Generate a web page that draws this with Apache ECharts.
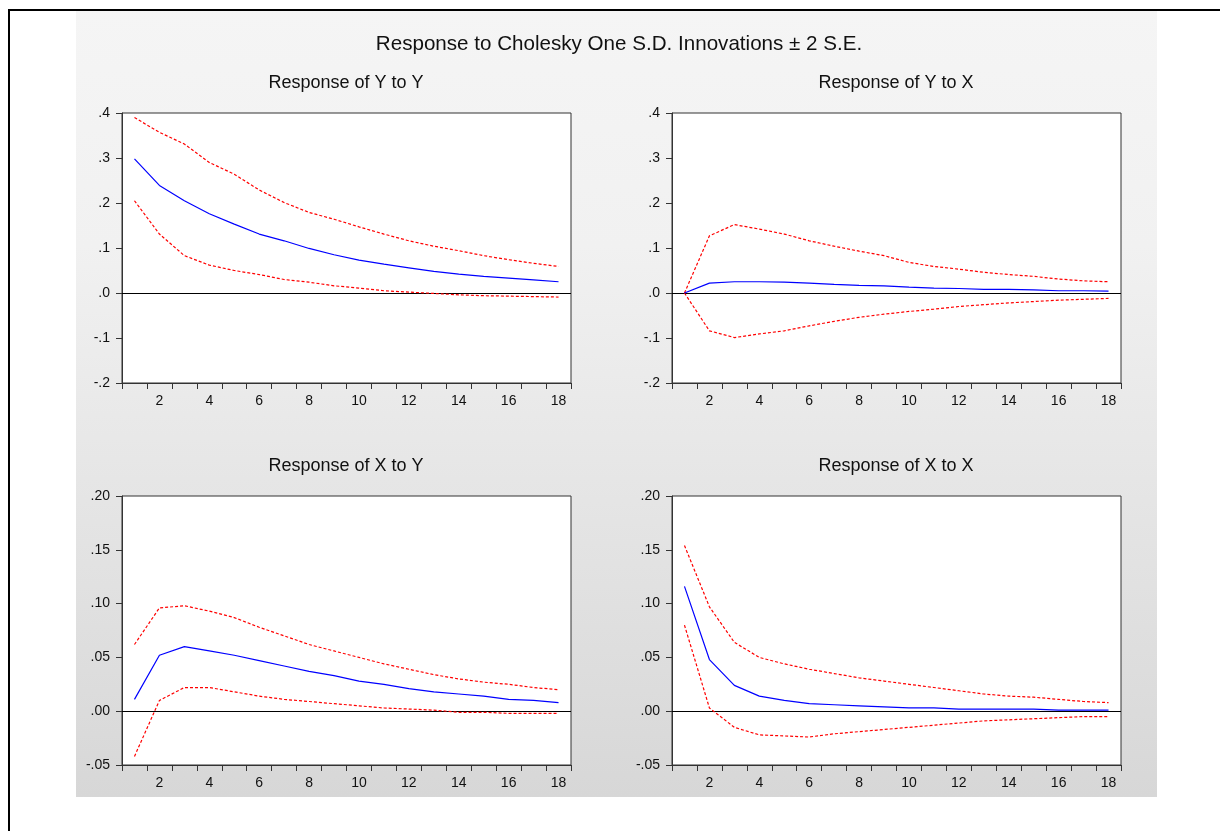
<!DOCTYPE html>
<html>
<head>
<meta charset="utf-8">
<script src="https://cdn.jsdelivr.net/npm/echarts@6/dist/echarts.min.js"></script>
<style>
  html, body { margin: 0; padding: 0; background: #fff; }
  #main { width: 1220px; height: 831px; }
</style>
</head>
<body>
<div id="main"></div>
<script>
// periods 1..18
const periods = ['1','2','3','4','5','6','7','8','9','10','11','12','13','14','15','16','17','18'];

const chartTitle = 'Response to Cholesky One S.D. Innovations \u00b1 2 S.E.';
const panelTitles = ['Response of Y to Y', 'Response of Y to X', 'Response of X to Y', 'Response of X to X'];

// Response of Y to Y
const yyResp  = [0.298, 0.239, 0.205, 0.176, 0.153, 0.131, 0.116, 0.099, 0.085, 0.073, 0.064, 0.056, 0.048, 0.042, 0.037, 0.033, 0.029, 0.025];
const yyUpper = [0.390, 0.357, 0.331, 0.290, 0.264, 0.229, 0.201, 0.179, 0.164, 0.147, 0.131, 0.116, 0.104, 0.094, 0.083, 0.074, 0.066, 0.059];
const yyLower = [0.205, 0.131, 0.083, 0.062, 0.050, 0.041, 0.030, 0.024, 0.016, 0.011, 0.005, 0.002, -0.001, -0.004, -0.006, -0.007, -0.008, -0.009];

// Response of Y to X
const yxResp  = [0.000, 0.022, 0.025, 0.025, 0.024, 0.022, 0.019, 0.017, 0.016, 0.013, 0.011, 0.010, 0.008, 0.008, 0.007, 0.005, 0.005, 0.004];
const yxUpper = [0.000, 0.127, 0.152, 0.142, 0.131, 0.116, 0.104, 0.093, 0.083, 0.068, 0.059, 0.053, 0.046, 0.041, 0.037, 0.031, 0.027, 0.025];
const yxLower = [0.000, -0.084, -0.099, -0.091, -0.084, -0.073, -0.063, -0.054, -0.047, -0.041, -0.036, -0.030, -0.026, -0.022, -0.019, -0.016, -0.014, -0.012];

// Response of X to Y
const xyResp  = [0.011, 0.052, 0.060, 0.056, 0.052, 0.047, 0.042, 0.037, 0.033, 0.028, 0.025, 0.021, 0.018, 0.016, 0.014, 0.011, 0.010, 0.008];
const xyUpper = [0.062, 0.096, 0.098, 0.093, 0.087, 0.078, 0.070, 0.062, 0.056, 0.050, 0.044, 0.039, 0.034, 0.030, 0.027, 0.025, 0.022, 0.020];
const xyLower = [-0.042, 0.010, 0.022, 0.022, 0.018, 0.014, 0.011, 0.009, 0.007, 0.005, 0.003, 0.002, 0.001, -0.001, -0.001, -0.002, -0.002, -0.002];

// Response of X to X
const xxResp  = [0.116, 0.048, 0.024, 0.014, 0.010, 0.007, 0.006, 0.005, 0.004, 0.003, 0.003, 0.002, 0.002, 0.002, 0.002, 0.001, 0.001, 0.001];
const xxUpper = [0.154, 0.097, 0.064, 0.050, 0.044, 0.039, 0.035, 0.031, 0.028, 0.025, 0.022, 0.019, 0.016, 0.014, 0.013, 0.011, 0.009, 0.008];
const xxLower = [0.080, 0.003, -0.015, -0.022, -0.023, -0.024, -0.021, -0.019, -0.017, -0.015, -0.013, -0.011, -0.009, -0.008, -0.007, -0.006, -0.005, -0.005];

// y scales: top row and bottom row
const topScale = { min: -0.2, max: 0.4, interval: 0.1, digits: 1 };
const botScale = { min: -0.05, max: 0.2, interval: 0.05, digits: 2 };

const panels = [
    { resp: yyResp, upper: yyUpper, lower: yyLower, scale: topScale },
    { resp: yxResp, upper: yxUpper, lower: yxLower, scale: topScale },
    { resp: xyResp, upper: xyUpper, lower: xyLower, scale: botScale },
    { resp: xxResp, upper: xxUpper, lower: xxLower, scale: botScale }
];

const gridBoxes = [
    { left: 122, top: 113, width: 449, height: 270 },
    { left: 672, top: 113, width: 449, height: 270 },
    { left: 122, top: 496, width: 449, height: 269 },
    { left: 672, top: 496, width: 449, height: 269 }
];

const font = '"Liberation Sans", Arial, sans-serif';
const txt = '#111';

// eviews style labels: .4  -.1  .00
function tickFmt(digits) {
    return function (v) {
        if (Math.abs(v) < 1e-9) v = 0;
        return v.toFixed(digits).replace('0.', '.');
    };
}

const chart = echarts.init(document.getElementById('main'));

const grids = [], xAxes = [], yAxes = [], series = [];
panels.forEach(function (p, i) {
    grids.push(Object.assign({
        show: true,
        backgroundColor: '#fff',
        borderColor: '#333',
        borderWidth: 1,
        containLabel: false
    }, gridBoxes[i]));

    xAxes.push({
        type: 'category',
        gridIndex: i,
        data: periods,
        boundaryGap: true,
        axisLine: { onZero: false, lineStyle: { color: '#333', width: 1 } },
        axisTick: { show: true, interval: 0, length: 6, alignWithLabel: false, lineStyle: { color: '#333' } },
        axisLabel: {
            interval: function (idx) { return idx % 2 === 1; },
            margin: 11,
            color: txt,
            fontSize: 14,
            fontFamily: font
        },
        splitLine: { show: false }
    });

    yAxes.push({
        type: 'value',
        gridIndex: i,
        min: p.scale.min,
        max: p.scale.max,
        interval: p.scale.interval,
        axisLine: { show: true, onZero: false, lineStyle: { color: '#333', width: 1 } },
        axisTick: { show: true, length: 6, lineStyle: { color: '#333' } },
        axisLabel: {
            formatter: tickFmt(p.scale.digits),
            margin: 12,
            color: txt,
            fontSize: 14,
            fontFamily: font
        },
        splitLine: { show: false }
    });

    series.push({
        type: 'line',
        xAxisIndex: i,
        yAxisIndex: i,
        data: p.upper,
        symbol: 'none',
        lineStyle: { color: '#ff0000', width: 1.2, type: [3, 2] },
        z: 3
    });
    series.push({
        type: 'line',
        xAxisIndex: i,
        yAxisIndex: i,
        data: p.lower,
        symbol: 'none',
        lineStyle: { color: '#ff0000', width: 1.2, type: [3, 2] },
        z: 3
    });
    series.push({
        type: 'line',
        xAxisIndex: i,
        yAxisIndex: i,
        data: p.resp,
        symbol: 'none',
        lineStyle: { color: '#0000ff', width: 1.2 },
        z: 4,
        // zero line
        markLine: {
            silent: true,
            symbol: 'none',
            label: { show: false },
            lineStyle: { color: '#000', width: 1, type: 'solid' },
            data: [{ yAxis: 0 }],
            z: 2
        }
    });
});

const option = {
    animation: false,
    backgroundColor: '#fff',
    graphic: [
        {
            type: 'rect',
            shape: { x: 76, y: 10, width: 1081, height: 787 },
            style: {
                fill: new echarts.graphic.LinearGradient(0, 0, 0, 1, [
                    { offset: 0, color: '#f5f5f5' },
                    { offset: 0.3, color: '#f1f1f1' },
                    { offset: 1, color: '#d7d7d7' }
                ])
            },
            z: -10,
            silent: true
        },
        {
            type: 'polyline',
            shape: { points: [[9, 831], [9, 10], [1220, 10]] },
            style: { stroke: '#000', lineWidth: 2, fill: null },
            z: 10,
            silent: true
        }
    ],
    title: [
        { text: chartTitle, left: 619, top: 34, textAlign: 'center', padding: 0,
          textStyle: { fontSize: 20.6, fontWeight: 'normal', color: txt, fontFamily: font } },
        { text: panelTitles[0], left: 346, top: 74, textAlign: 'center', padding: 0,
          textStyle: { fontSize: 18, fontWeight: 'normal', color: txt, fontFamily: font } },
        { text: panelTitles[1], left: 896, top: 74, textAlign: 'center', padding: 0,
          textStyle: { fontSize: 18, fontWeight: 'normal', color: txt, fontFamily: font } },
        { text: panelTitles[2], left: 346, top: 457, textAlign: 'center', padding: 0,
          textStyle: { fontSize: 18, fontWeight: 'normal', color: txt, fontFamily: font } },
        { text: panelTitles[3], left: 896, top: 457, textAlign: 'center', padding: 0,
          textStyle: { fontSize: 18, fontWeight: 'normal', color: txt, fontFamily: font } }
    ],
    grid: grids,
    xAxis: xAxes,
    yAxis: yAxes,
    series: series
};

option && chart.setOption(option);
</script>
</body>
</html>
